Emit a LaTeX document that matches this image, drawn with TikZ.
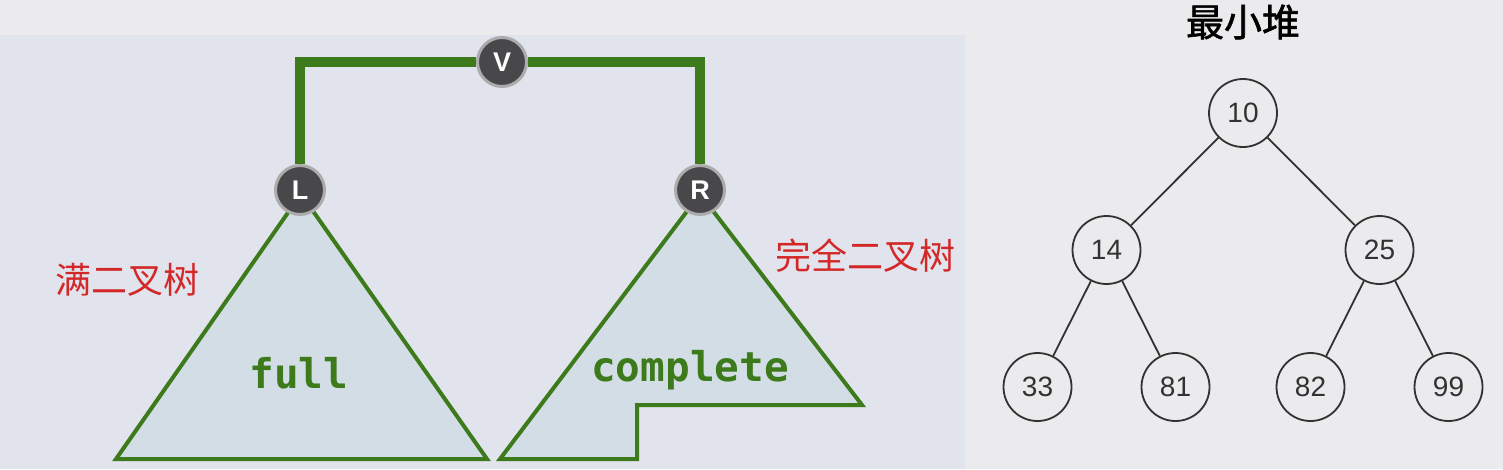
\documentclass[tikz,border=0pt]{standalone}
\usepackage{fontspec}
\setmainfont{Liberation Sans}
\newfontfamily\cjk{Noto Sans CJK SC}
\newfontfamily\cjkheavy[FakeBold=1.5]{Noto Sans CJK SC}
\newfontfamily\codefont{DejaVu Sans Mono}
\usetikzlibrary{trees,positioning}

\definecolor{pageGrey}{RGB}{235,235,237}
\definecolor{panelBlue}{RGB}{225,228,236}
\definecolor{subFill}{RGB}{211,221,229}
\definecolor{treeGreen}{RGB}{60,122,28}
\definecolor{cnRed}{RGB}{212,40,40}
\definecolor{heapLine}{RGB}{50,50,50}
\definecolor{knob}{RGB}{72,72,74}

\begin{document}
\begin{tikzpicture}[x=1pt, y=-1pt,
				      level distance=137pt,
				      level 1/.style={sibling distance=273pt},
				      level 2/.style={sibling distance=138pt},
				      heapVertex/.style={
						      draw=heapLine, shape=circle, line width=1.8pt,
						      minimum size=68pt, inner sep=0pt,
						      font=\fontsize{28}{28}\selectfont, text=heapLine
					      },
				      letterVertex/.style={
						      draw=gray!65, fill=knob, shape=circle, line width=3pt,
						      minimum size=49pt, inner sep=0pt,
						      font=\bfseries\fontsize{27}{27}\selectfont, text=white
					      },
				      edge from parent/.style={draw=heapLine, line width=1.8pt},
				      branch/.style={draw=treeGreen, line width=10pt},
				      subTree/.style={draw=treeGreen, line width=4pt, fill=subFill},
				      codeLabel/.style={font=\codefont\bfseries\fontsize{41}{41}\selectfont, text=treeGreen, anchor=base},
				      cnLabel/.style={font=\cjk\fontsize{36}{36}\selectfont, text=cnRed},
				      titleLabel/.style={font=\cjkheavy\fontsize{38}{38}\selectfont, text=black}
			      ]

			      \useasboundingbox[fill=pageGrey] (0,0) rectangle (1503,469);
			      \fill[panelBlue] (0,35) rectangle (965,469);

			      % Full and complete subtrees
			      \draw[subTree] (301,194) -- (487,459) -- (116,459) -- cycle;
			      \draw[subTree] (700,194) -- (862,405) -- (637,405) -- (637,459) -- (500,459) -- cycle;
			      \node[codeLabel] (Full) at (299,388) {full};
			      \node[codeLabel] (Complete) at (690,381) {complete};
			      \node[cnLabel] (FullName) at (127,280) {满二叉树};
			      \node[cnLabel] (CompleteName) at (865,256) {完全二叉树};

			      % Root and its two children
			      \node[letterVertex] (V) at (502,62) {V};
			      \node[letterVertex] (L) at (300,190) {L};
			      \node[letterVertex] (R) at (700,190) {R};
			      \draw[branch] (V) -| (L);
			      \draw[branch] (V) -| (R);

			      % Min heap
			      \node[titleLabel] (Title) at (1243,22) {最小堆};
			      \node[heapVertex] (H0) at (1243,113) {10}
			      child{
					      node[heapVertex] (H1) {14}
					      child {node[heapVertex] (H3) {33}}
					      child {node[heapVertex] (H4) {81}}
				      }
			      child{
					      node[heapVertex] (H2) {25}
					      child {node[heapVertex] (H5) {82}}
					      child {node[heapVertex] (H6) {99}}
				      };
		      \end{tikzpicture}
\end{document}
